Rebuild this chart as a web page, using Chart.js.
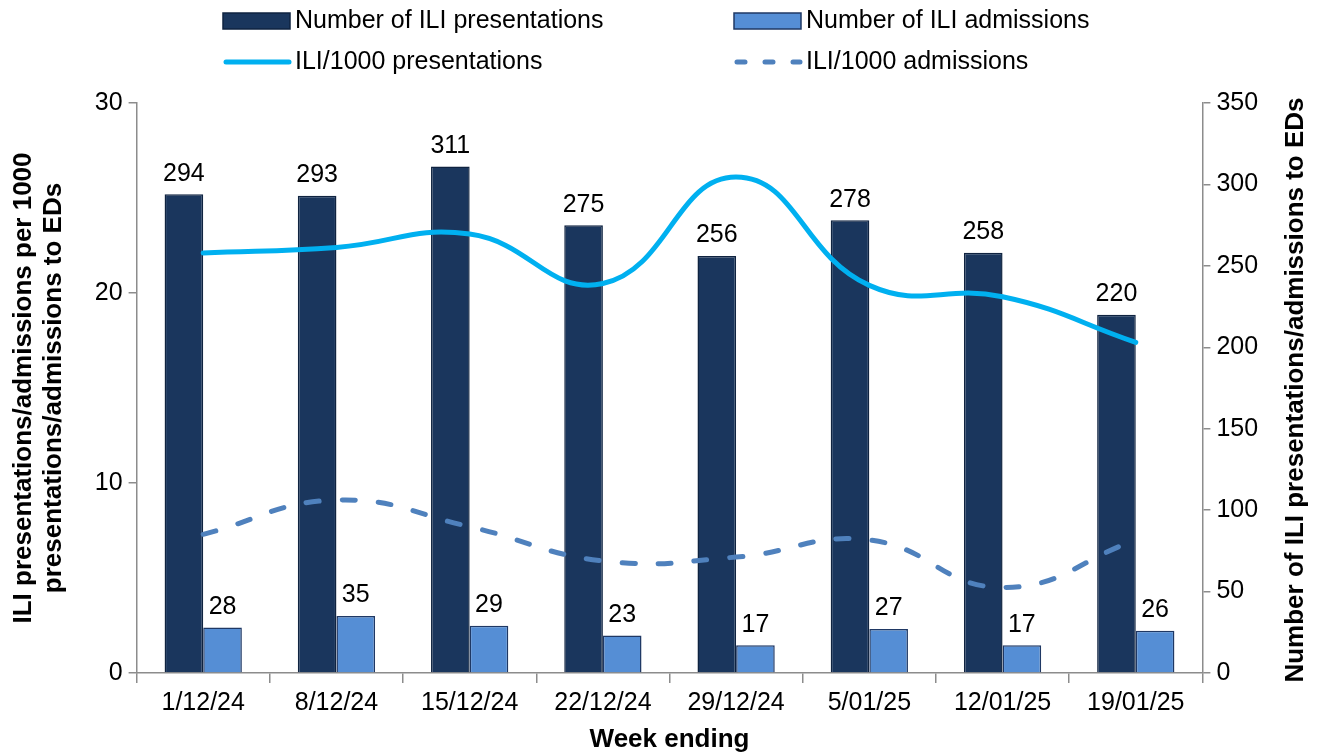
<!DOCTYPE html>
<html>
<head>
<meta charset="utf-8">
<script src="https://cdn.jsdelivr.net/npm/chart.js@4.4.1/dist/chart.umd.min.js"></script>
<style>
  html, body { margin: 0; padding: 0; background: #fff; }
  canvas { display: block; }
</style>
</head>
<body>
<canvas id="ili" width="1324" height="753"></canvas>
<script>
const weeks = ["1/12/24", "8/12/24", "15/12/24", "22/12/24", "29/12/24", "5/01/25", "12/01/25", "19/01/25"];
const presentations = [294, 293, 311, 275, 256, 278, 258, 220];
const admissions = [28, 35, 29, 23, 17, 27, 17, 26];
const presPer1000 = [22.1, 22.4, 23.1, 20.5, 26.1, 20.4, 19.8, 17.4];
const admPer1000 = [7.3, 9.1, 7.7, 5.9, 6.1, 7.0, 4.5, 7.0];
const leftMax = 30, leftStep = 10;
const rightMax = 350, rightStep = 50;

const FONT = "'Liberation Sans', Arial, sans-serif";
const rightTitle = "Number of ILI presentations/admissions to EDs";

// value labels above the bars (no datalabels plugin available offline)
const barLabels = {
  id: "barLabels",
  afterDatasetsDraw(chart) {
    const ctx = chart.ctx;
    ctx.save();
    ctx.font = "25px " + FONT;
    ctx.fillStyle = "#000";
    ctx.textAlign = "center";
    ctx.textBaseline = "bottom";
    chart.data.datasets.forEach((ds, i) => {
      if (ds.type !== "bar") return;
      chart.getDatasetMeta(i).data.forEach((el, j) => {
        ctx.fillText(ds.data[j], el.x, el.y - 8);
      });
    });
    ctx.restore();
  }
};

// two-column legend like the original
const gridLegend = {
  id: "gridLegend",
  afterDraw(chart) {
    const ctx = chart.ctx;
    const cols = [223, 734];
    const rows = [21, 62];
    ctx.save();
    ctx.font = "25px " + FONT;
    ctx.textBaseline = "middle";
    chart.data.datasets.forEach((ds, i) => {
      const x = cols[i % 2], y = rows[Math.floor(i / 2)];
      if (ds.type === "bar") {
        ctx.fillStyle = ds.backgroundColor;
        ctx.strokeStyle = ds.borderColor;
        ctx.lineWidth = 1.5;
        ctx.fillRect(x, y - 8, 67, 16);
        ctx.strokeRect(x, y - 8, 67, 16);
      } else {
        ctx.strokeStyle = ds.borderColor;
        ctx.lineWidth = 5;
        ctx.lineCap = "round";
        ctx.setLineDash(ds.borderDash ? [8, 20] : []);
        ctx.beginPath();
        ctx.moveTo(x + 3, y);
        ctx.lineTo(x + 66, y);
        ctx.stroke();
        ctx.setLineDash([]);
      }
      ctx.fillStyle = "#000";
      ctx.fillText(ds.label, x + 72, y);
    });
    ctx.restore();
  }
};

// right title reads bottom-to-top in the original
const rightAxisTitle = {
  id: "rightAxisTitle",
  afterDraw(chart) {
    const s = chart.scales.y1;
    const ctx = chart.ctx;
    ctx.save();
    ctx.font = "bold 26px " + FONT;
    ctx.fillStyle = "#000";
    ctx.textAlign = "center";
    ctx.textBaseline = "middle";
    ctx.translate(s.right - 16, (s.top + s.bottom) / 2 + 2);
    ctx.rotate(-Math.PI / 2);
    ctx.fillText(rightTitle, 0, 0);
    ctx.restore();
  }
};

const tickFont = { family: FONT, size: 25 };
const titleFont = { family: FONT, size: 26, weight: "bold", lineHeight: 1.15 };
const axisGray = "#8c8c8c";

new Chart(document.getElementById("ili"), {
  data: {
    labels: weeks,
    datasets: [
      {
        type: "bar",
        label: "Number of ILI presentations",
        data: presentations,
        yAxisID: "y1",
        backgroundColor: "#1a365d",
        borderColor: "#0f2340",
        borderWidth: 1.5,
        order: 2,
      },
      {
        type: "bar",
        label: "Number of ILI admissions",
        data: admissions,
        yAxisID: "y1",
        backgroundColor: "#558ed5",
        borderColor: "#1f3864",
        borderWidth: 1.5,
        order: 2,
      },
      {
        type: "line",
        label: "ILI/1000 presentations",
        data: presPer1000,
        yAxisID: "y",
        borderColor: "#00b0f0",
        borderWidth: 5,
        pointRadius: 0,
        tension: 0.45,
        borderCapStyle: "round",
        order: 0,
      },
      {
        type: "line",
        label: "ILI/1000 admissions",
        data: admPer1000,
        yAxisID: "y",
        borderColor: "#4f81bd",
        borderWidth: 5,
        borderDash: [13, 23],
        borderCapStyle: "round",
        pointRadius: 0,
        tension: 0.45,
        order: 0,
      },
    ],
  },
  options: {
    responsive: false,
    animation: false,
    layout: { padding: { top: 103, left: 9, right: 12, bottom: 0 } },
    datasets: {
      bar: { categoryPercentage: 0.58, barPercentage: 1.0 },
    },
    plugins: {
      legend: { display: false },
      tooltip: { enabled: false },
    },
    scales: {
      x: {
        offset: true,
        grid: { offset: true, drawOnChartArea: false, tickLength: 10, color: axisGray, lineWidth: 1.5 },
        border: { color: axisGray, width: 1.5 },
        ticks: { color: "#000", font: tickFont, padding: 5, maxRotation: 0 },
        title: {
          display: true,
          text: "Week ending",
          color: "#000",
          font: { family: FONT, size: 26, weight: "bold", lineHeight: 1.0 },
          padding: { top: 4, bottom: 0 },
        },
      },
      y: {
        position: "left",
        min: 0,
        max: leftMax,
        grid: { drawOnChartArea: false, tickLength: 8, color: axisGray, lineWidth: 1.5 },
        border: { color: axisGray, width: 1.5 },
        ticks: { stepSize: leftStep, color: "#000", font: tickFont, padding: 6 },
        title: {
          display: true,
          text: ["ILI presentations/admissions per 1000", "presentations/admissions to EDs"],
          color: "#000",
          font: titleFont,
          padding: { top: 0, bottom: 20 },
        },
      },
      y1: {
        position: "right",
        min: 0,
        max: rightMax,
        grid: { drawOnChartArea: false, tickLength: 8, color: axisGray, lineWidth: 1.5 },
        border: { color: axisGray, width: 1.5 },
        ticks: { stepSize: rightStep, color: "#000", font: tickFont, padding: 6 },
        title: {
          display: true,
          text: rightTitle,
          color: "rgba(0,0,0,0)",
          font: titleFont,
          padding: { top: 18, bottom: 0 },
        },
      },
    },
  },
  plugins: [barLabels, gridLegend, rightAxisTitle],
});
</script>
</body>
</html>
